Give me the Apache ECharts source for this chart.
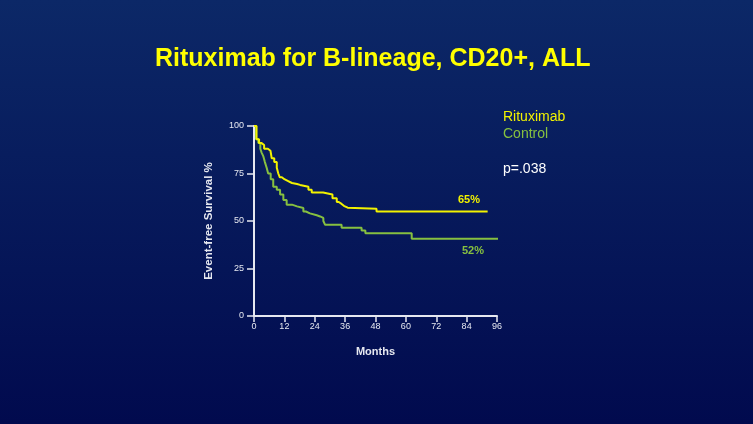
<!DOCTYPE html>
<html><head><meta charset="utf-8">
<script src="https://cdn.jsdelivr.net/npm/echarts@6/dist/echarts.min.js"></script>
<style>html,body{margin:0;padding:0;}#c{width:753px;height:424px;}</style>
</head><body><div id="c"></div>
<script>
// Kaplan-Meier step data: [month, survival %]
var rituximab = [
  [0,100],[1,93],[2,91],[3,90],[4,88],[5.5,87],[6.5,86],[7,83],[8,81],[9,78],
  [9.6,75],[10.2,73],[11,72],[12,71],[13.5,70],[15,69.5],[17,69],[18.2,68],
  [21.5,66.5],[22.8,65],[27.3,64],[31,62],[32.7,60],[33.5,59],[34.6,58],
  [35.5,57],[37,56.5],[48.4,55],[92.3,55]
];
var control = [
  [0,100],[0.8,93],[1.7,91],[2.5,88],[3,86],[3.7,84],[4.3,81],[5,78],[5.6,75],
  [6.6,72],[7.6,68],[9,66.5],[10.3,64],[11.6,61],[12.9,58.6],[15,57.7],[17,56.8],
  [19.5,55],[20.5,54],[22.1,53],[24.8,52.4],[26.1,51.6],[27.4,50],[28.1,48],
  [34.6,46.5],[42.5,45],[44,43.5],[62.3,40.6],[96.5,40.6]
];
var xTicks = [0,12,24,36,48,60,72,84,96];
var yTicks = [0,25,50,75,100];
var seriesNames = ['Rituximab','Control'];
var endLabels = ['65%','52%'];
var titleText = 'Rituximab for B-lineage, CD20+, ALL';
var pText = 'p=.038';

var YELLOW = '#f2f200', GREEN = '#86c040', AX = '#e6e8f0';
var chart = echarts.init(document.getElementById('c'));
chart.setOption({
  backgroundColor: new echarts.graphic.LinearGradient(0,0,0,1,[
    {offset:0,color:'#0c2867'},{offset:1,color:'#010a4e'}]),
  animation:false,
  title:{text:titleText,left:150,top:42,
    textStyle:{color:'#ffff00',fontFamily:'Liberation Sans, Arial',fontWeight:'bold',fontSize:25}},
  grid:{left:254,right:256,top:126,bottom:108},
  xAxis:{type:'value',min:0,max:96,interval:12,
    name:'Months',nameLocation:'middle',nameGap:30,
    nameTextStyle:{color:AX,fontWeight:'bold',fontSize:11,fontFamily:'Liberation Sans, Arial'},
    axisLine:{show:true,lineStyle:{color:AX,width:2}},
    axisTick:{show:true,length:6,lineStyle:{color:AX,width:1.5}},
    axisLabel:{color:AX,fontSize:9,margin:6,fontFamily:'Liberation Sans, Arial',
      formatter:function(v){return xTicks.indexOf(v)>=0?String(v):'';}},
    splitLine:{show:false}},
  yAxis:{type:'value',min:0,max:100,interval:25,
    name:'Event-free Survival %',nameLocation:'middle',nameGap:39,
    nameTextStyle:{color:AX,fontWeight:'bold',fontSize:11.5,fontFamily:'Liberation Sans, Arial'},
    axisLine:{show:true,lineStyle:{color:AX,width:2}},
    axisTick:{show:true,length:7,lineStyle:{color:AX,width:1.5}},
    axisLabel:{color:AX,fontSize:9,margin:10,fontFamily:'Liberation Sans, Arial',
      formatter:function(v){return yTicks.indexOf(v)>=0?String(v):'';}},
    splitLine:{show:false}},
  series:[
    {name:seriesNames[1],type:'line',step:'end',data:control,symbol:'none',
      lineStyle:{color:GREEN,width:2},z:2},
    {name:seriesNames[0],type:'line',step:'end',data:rituximab,symbol:'none',
      lineStyle:{color:YELLOW,width:2},z:3}
  ],
  graphic:[
    {type:'text',left:503,top:110,style:{text:seriesNames[0],fill:YELLOW,fontSize:14,fontFamily:'Liberation Sans, Arial'}},
    {type:'text',left:503,top:127,style:{text:seriesNames[1],fill:GREEN,fontSize:14,fontFamily:'Liberation Sans, Arial'}},
    {type:'text',left:503,top:162,style:{text:pText,fill:'#ffffff',fontSize:14,fontFamily:'Liberation Sans, Arial'}},
    {type:'text',left:458,top:194,style:{text:endLabels[0],fill:YELLOW,fontSize:11,fontWeight:'bold',fontFamily:'Liberation Sans, Arial'}},
    {type:'text',left:462,top:245,style:{text:endLabels[1],fill:GREEN,fontSize:11,fontWeight:'bold',fontFamily:'Liberation Sans, Arial'}}
  ]
});
</script></body></html>
